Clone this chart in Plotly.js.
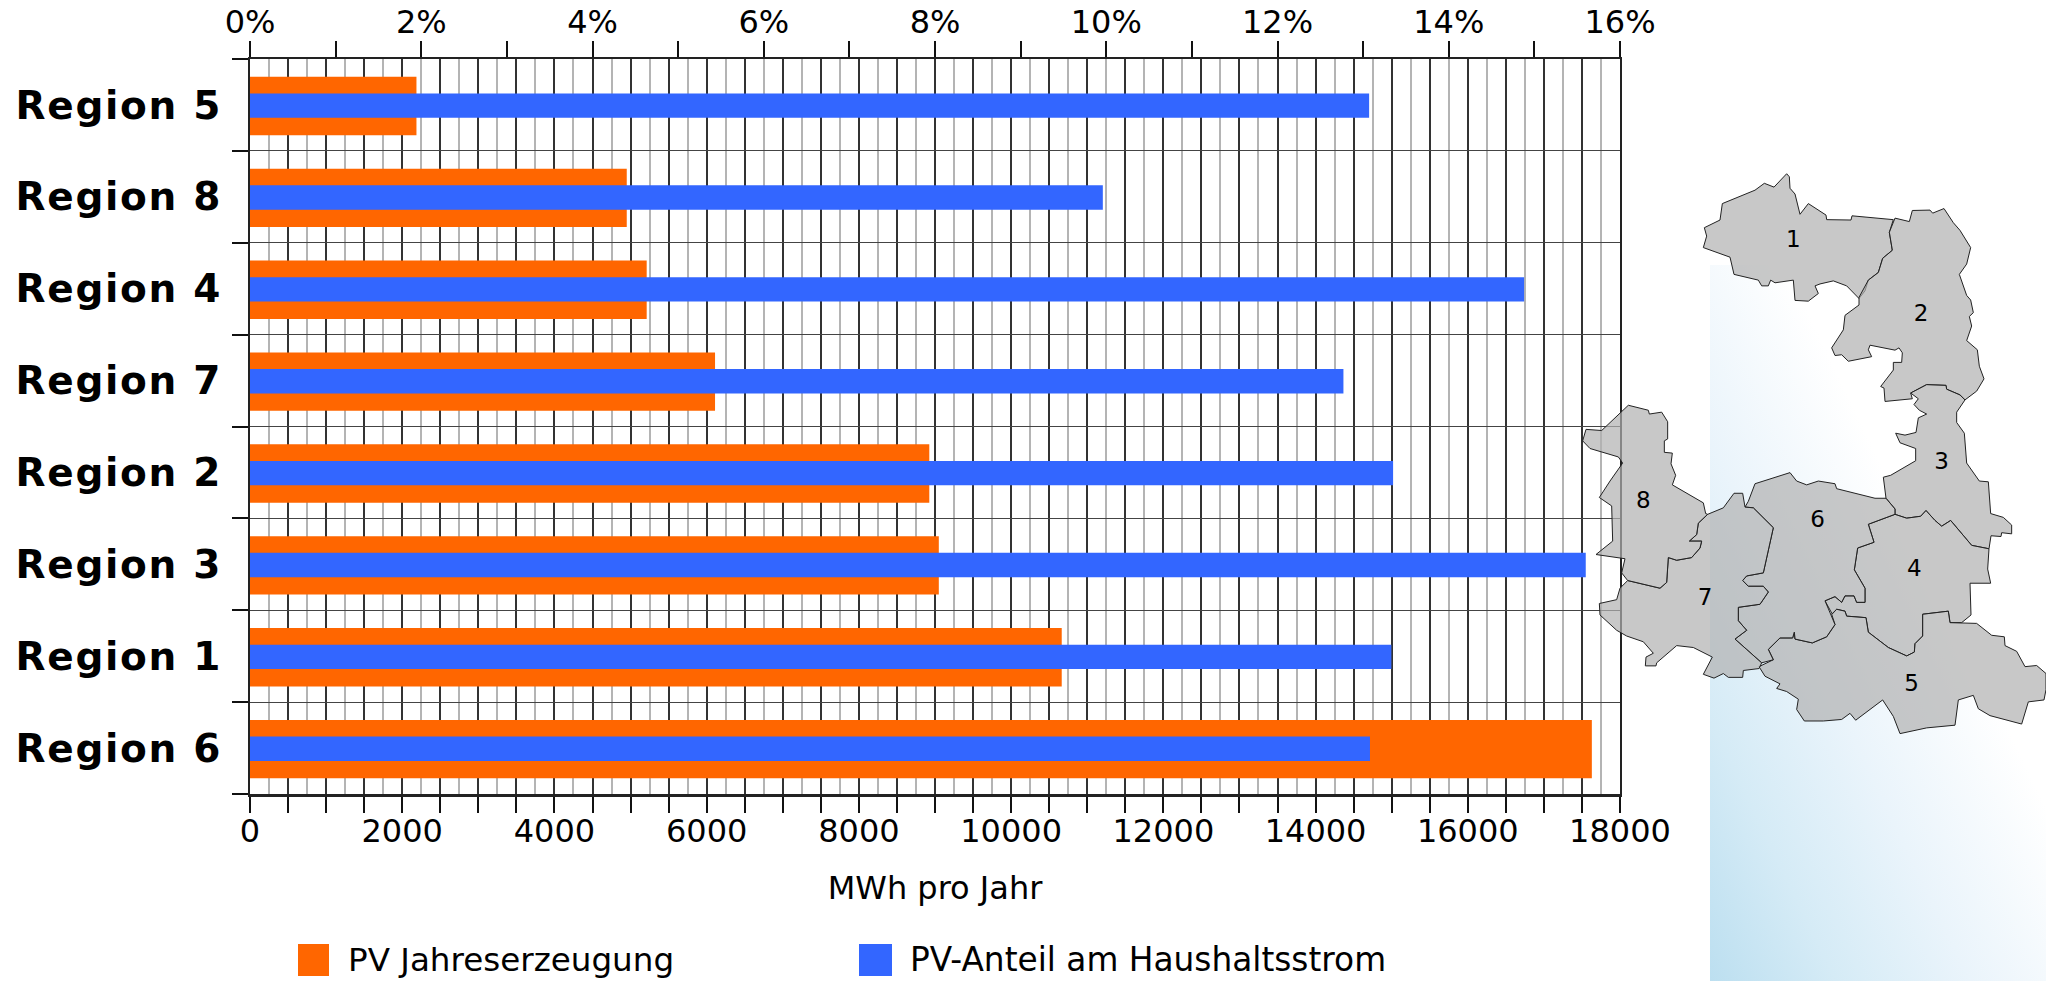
<!DOCTYPE html>
<html><head><meta charset="utf-8">
<script src="https://cdn.plot.ly/plotly-3.0.1.min.js"></script>
<style>html,body{margin:0;padding:0;background:#fff;overflow:hidden}#c{width:2046px;height:981px}
.ytick text{letter-spacing:1.7px}</style>
</head><body><div id="c"></div>
<script>
// Chart data (bottom to top)
const regions = ["Region 6","Region 1","Region 3","Region 2","Region 7","Region 4","Region 8","Region 5"];
const jahreserzeugung = [17630,10665,9050,8925,6110,5212,4950,2187];
const anteil = [13.08,13.33,15.6,13.35,12.77,14.88,9.96,13.07];
const mwhTicks = [0,500,1000,1500,2000,2500,3000,3500,4000,4500,5000,5500,6000,6500,7000,7500,8000,8500,9000,9500,10000,10500,11000,11500,12000,12500,13000,13500,14000,14500,15000,15500,16000,16500,17000,17500,18000];
const mwhLabels = mwhTicks.map(v => v % 2000 === 0 ? String(v) : "");
const seriesNames = ["PV Jahreserzeugung","PV-Anteil am Haushaltsstrom"];

// Map outlines: x,y pairs
const map1=[430,255,440,225,433,203,480,183,487,140,585,105,613,87,642,97,680,62,688,70,690,100,705,115,720,168,745,140,798,170,800,182,873,183,876,172,1000,182,988,215,997,262,968,283,955,320,925,340,915,368,897,388,860,355,820,342,780,350,765,355,775,375,745,395,705,393,700,340,645,347,632,340,625,355,605,355,595,340,522,325,510,280];
const map2=[1005,178,1048,187,1057,158,1110,157,1118,165,1152,153,1180,190,1200,210,1232,255,1220,298,1198,325,1220,380,1232,392,1240,425,1228,435,1235,460,1220,498,1252,522,1258,565,1272,598,1250,630,1215,653,1200,640,1160,625,1158,615,1100,613,1052,635,1057,650,975,657,972,622,962,618,1000,575,1000,555,1025,555,1027,530,1017,517,1005,523,930,510,925,522,935,540,865,552,845,535,825,537,815,517,850,470,855,432,897,405,897,385,925,340,955,320,968,283,997,262,988,215];
const map3=[1052,635,1100,613,1158,615,1160,625,1200,640,1215,653,1190,685,1190,712,1213,740,1220,800,1220,818,1258,865,1285,867,1292,950,1330,960,1355,980,1355,1003,1325,1000,1323,1010,1293,1008,1287,1042,1235,1033,1172,968,1145,983,1125,968,1098,942,1082,957,1040,962,1005,952,1005,938,978,910,970,855,992,850,1067,812,1067,780,1020,765,1007,740,1035,745,1068,738,1075,700,1100,690,1078,680,1062,665,1075,650];
const map4=[925,978,1005,952,1040,962,1082,957,1098,942,1125,968,1145,983,1172,968,1235,1033,1287,1042,1283,1095,1292,1132,1230,1132,1233,1215,1205,1235,1170,1235,1165,1205,1088,1213,1088,1270,1065,1290,1063,1312,1040,1322,1010,1310,985,1300,925,1260,918,1222,860,1218,855,1205,830,1200,817,1213,795,1178,825,1167,845,1182,855,1165,882,1165,890,1182,915,1182,915,1145,883,1097,893,1040,942,1025];
const map5=[597,1350,640,1332,625,1305,660,1275,698,1275,703,1260,705,1278,757,1288,800,1272,825,1240,815,1213,830,1200,855,1205,860,1218,918,1222,925,1260,985,1300,1010,1310,1040,1322,1063,1312,1065,1290,1088,1270,1088,1213,1165,1205,1170,1235,1250,1237,1295,1268,1333,1272,1335,1295,1370,1310,1395,1350,1430,1347,1458,1368,1458,1410,1452,1437,1405,1442,1385,1500,1290,1478,1255,1460,1240,1425,1195,1437,1185,1503,1100,1510,1020,1525,1000,1480,968,1437,887,1490,870,1472,845,1488,790,1492,733,1492,710,1462,715,1435,680,1415,650,1407,660,1395,615,1375];
const map6=[585,872,690,843,710,865,740,875,775,865,825,872,830,885,945,910,978,910,1005,938,1005,952,925,978,942,1025,893,1040,883,1097,915,1145,915,1182,890,1182,882,1165,855,1165,845,1182,825,1167,795,1178,825,1240,800,1272,757,1288,705,1278,703,1260,698,1275,660,1275,625,1305,640,1332,605,1340,560,1305,525,1278,560,1255,535,1230,535,1195,600,1187,625,1155,610,1140,565,1140,548,1125,560,1113,610,1105,640,987,580,935,555,933,565,918];
const map7=[443,952,490,935,522,897,548,897,555,933,580,935,640,987,610,1105,560,1113,548,1125,565,1140,610,1140,625,1155,600,1187,535,1195,535,1230,560,1255,525,1278,560,1305,605,1340,597,1355,550,1360,548,1378,505,1378,490,1368,462,1380,430,1370,457,1325,400,1300,350,1295,290,1340,288,1348,256,1348,258,1325,280,1315,250,1285,200,1270,170,1255,120,1215,118,1185,170,1175,180,1145,203,1125,300,1145,320,1130,325,1065,350,1072,395,1065,420,1040,425,1022,388,1022,410,1005,415,975];
const map8=[205,667,265,680,268,690,305,685,323,710,323,755,313,760,313,790,337,792,333,820,347,850,337,875,430,922,437,950,443,952,415,975,410,1005,388,1022,425,1022,420,1040,395,1065,350,1072,325,1065,320,1130,300,1145,203,1125,185,1105,195,1068,108,1057,158,1022,155,930,118,908,150,865,188,818,175,802,90,780,68,760,78,730,125,733];
const mapLabels=["1","2","3","4","5","6","7","8"];
const mapLabelPos=[700,238,1083,433,1145,818,1063,1098,1055,1398,773,970,435,1173,250,920];

const W=2046,H=981,L=250,R=1620,T=59,B=794;
const FONT='"DejaVu Sans", sans-serif';
const mx=v=>1560+v/3, my=v=>150+v/2.613;
const pairs=a=>{const xs=[],ys=[];for(let i=0;i<a.length;i+=2){xs.push(mx(a[i]));ys.push(my(a[i+1]));}xs.push(xs[0]);ys.push(ys[0]);return [xs,ys];};

const traces=[
 {type:'bar',orientation:'h',name:seriesNames[0],y:regions,x:jahreserzeugung,xaxis:'x',yaxis:'y',width:0.635,offset:-0.329,marker:{color:'#ff6600'},showlegend:false,hoverinfo:'x+y'},
 {type:'bar',orientation:'h',name:seriesNames[1],y:regions,x:anteil,xaxis:'x2',yaxis:'y',width:0.265,offset:-0.14,marker:{color:'#3366ff'},showlegend:false,hoverinfo:'x+y'}
];
[map1,map2,map3,map4,map5,map6,map7,map8].forEach((m,i)=>{
 const [xs,ys]=pairs(m);
 traces.push({type:'scatter',mode:'lines',x:xs,y:ys,xaxis:'x3',yaxis:'y3',fill:'toself',fillcolor:'rgba(176,176,176,0.7)',line:{color:'#222',width:1},showlegend:false,hoverinfo:'skip'});
});
const lp=pairs(mapLabelPos);
traces.push({type:'scatter',mode:'text',x:lp[0].slice(0,8),y:lp[1].slice(0,8),text:mapLabels,textfont:{family:FONT,size:23,color:'#000'},xaxis:'x3',yaxis:'y3',showlegend:false,hoverinfo:'skip'});

const px=v=>v/W, py=v=>1-v/H;
const gradSvg=`<svg xmlns="http://www.w3.org/2000/svg" width="336" height="716" viewBox="1710 265 336 716"><defs><linearGradient id="g" gradientUnits="userSpaceOnUse" x1="1710" y1="981" x2="2051" y2="817"><stop offset="0" stop-color="#bcdff0"/><stop offset="0.3" stop-color="#d5ebf6"/><stop offset="0.62" stop-color="#eaf4fb"/><stop offset="1" stop-color="#ffffff"/></linearGradient></defs><rect x="1710" y="265" width="336" height="716" fill="url(#g)"/></svg>`;

const layout={
 width:W,height:H,margin:{l:0,r:0,t:0,b:0},paper_bgcolor:'#fff',plot_bgcolor:'rgba(0,0,0,0)',
 font:{family:FONT,color:'#000'},barmode:'overlay',showlegend:false,
 images:[{source:'data:image/svg+xml,'+encodeURIComponent(gradSvg),xref:'paper',yref:'paper',x:px(1710),y:py(265),sizex:336/W,sizey:716/H,sizing:'stretch',xanchor:'left',yanchor:'top',layer:'below'}],
 xaxis:{domain:[px(L),px(R)],range:[0,18000],anchor:'y',side:'bottom',tickmode:'array',tickvals:mwhTicks,ticktext:mwhLabels,
  ticks:'outside',ticklen:16,tickwidth:2,tickcolor:'#111',ticklabelstandoff:-9,tickfont:{family:FONT,size:32,color:'#000'},
  showgrid:true,gridcolor:'#333',gridwidth:1.5,showline:true,linecolor:'#222',linewidth:3,zeroline:false,
  minor:{dtick:250,tick0:0,showgrid:true,gridcolor:'#b4b4b4',gridwidth:2,ticks:''},
  title:{text:'MWh pro Jahr',font:{family:FONT,size:32,color:'#000'},standoff:28}},
 xaxis2:{domain:[px(L),px(R)],range:[0,16],overlaying:'x',anchor:'y',side:'top',dtick:2,tick0:0,ticksuffix:'%',
  ticks:'outside',ticklen:16,tickwidth:2,tickcolor:'#111',ticklabelstandoff:-5,tickfont:{family:FONT,size:32,color:'#000'},
  minor:{dtick:1,tick0:0,ticks:'outside',ticklen:16,tickwidth:2,tickcolor:'#111',showgrid:false},
  showgrid:false,showline:true,linecolor:'#222',linewidth:2,zeroline:false},
 yaxis:{domain:[py(B),py(T)],type:'category',categoryorder:'array',categoryarray:regions,range:[-0.5,7.5],anchor:'x',tickson:'boundaries',
  ticks:'outside',ticklen:16,tickwidth:2,tickcolor:'#111',ticklabelstandoff:18,tickfont:{family:FONT,size:39,color:'#000',weight:700},
  showgrid:true,gridcolor:'#444',gridwidth:1,showline:true,linecolor:'#222',linewidth:2,mirror:true,zeroline:false},
 xaxis3:{domain:[0,1],range:[0,W],visible:false,anchor:'y3',fixedrange:true},
 yaxis3:{domain:[0,1],range:[H,0],visible:false,anchor:'x3',fixedrange:true},
 shapes:[
  {type:'rect',xref:'paper',yref:'paper',x0:px(298),x1:px(329),y0:py(944),y1:py(976),fillcolor:'#ff6600',line:{width:0}},
  {type:'rect',xref:'paper',yref:'paper',x0:px(859),x1:px(892),y0:py(944),y1:py(976),fillcolor:'#3366ff',line:{width:0}}
 ],
 annotations:[
  {xref:'paper',yref:'paper',x:px(346),y:py(960),xanchor:'left',yanchor:'middle',showarrow:false,text:seriesNames[0],font:{family:FONT,size:32.6,color:'#000'}},
  {xref:'paper',yref:'paper',x:px(908),y:py(960),xanchor:'left',yanchor:'middle',showarrow:false,text:seriesNames[1],font:{family:FONT,size:32.8,color:'#000'}}
 ]
};
Plotly.newPlot('c',traces,layout,{displayModeBar:false,responsive:false});
</script></body></html>
